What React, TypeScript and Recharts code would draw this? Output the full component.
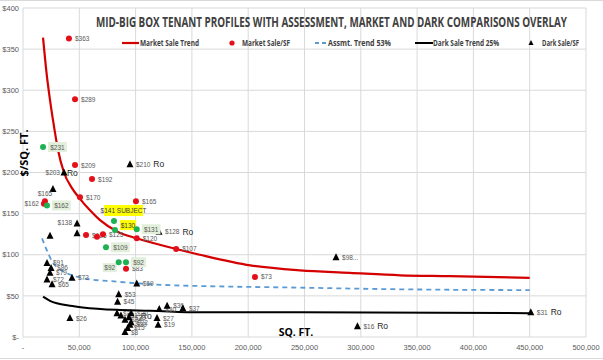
import React from 'react';
import { ScatterChart, Scatter, XAxis, YAxis, CartesianGrid } from 'recharts';

// ---------- Market sales (red dots) ----------
const marketSqft = [40800, 46200, 46200, 61300, 50600, 100300, 19500, 18600, 56000, 65700, 71000, 101000, 136000, 91500, 206000];
const marketPsf = [363, 289, 209, 192, 170, 165, 165, 162, 124, 122, 125, 120, 107, 83, 73];
const marketLabels = ['$363', '$289', '$209', '$192', '$170', '$165', '$165', '$162', '$126', '', '$125', '$120', '$107', '$83', '$73'];

// ---------- Assessments (green dots) ----------
const assessSqft = [17800, 21300, 80800, 81700, 101000, 73700, 85000, 91500];
const assessPsf = [231, 160, 141, 130, 131, 109, 91, 91];
const assessLabels = ['$231', '$162', '$141 SUBJECT', '$130', '$131', '$109', '$92', '$92'];

// ---------- Dark sales (black triangles) ----------
const darkSqft = [95000, 36400, 26600, 48000, 48000, 24000, 21300, 24900, 24000, 21300, 25800, 43500, 101000, 85000, 84000, 83500, 41700, 87000, 90600, 94000, 96000, 96000, 95000, 93000, 90600, 119000, 120000, 121000, 128000, 142000, 278000, 297000, 451000, 120800];
const darkPsf = [210, 200, 180, 138, 126, 123, 90, 84, 78, 70, 64, 72, 65, 52, 43, 29, 23, 26, 21, 24, 29, 18, 15, 11, 6, 23, 15, 34, 38, 35, 97, 13, 30, 128];
const darkLabels = ['$210', '$203', '', '$138', '', '', '$91', '$86', '$79', '$72', '$65', '$73', '$69', '$53', '$45', '$36', '$26', '$31', '$24', '$28', '$30', '$22', '$20', '$15', '$8', '$27', '$19', '$30', '$36', '$37', '$98...', '$16', '$31', '$128'];
const darkRo = ['$210', '$203', '$16', '$31', '$128'];

// ---------- Trend lines ----------
const marketTrendSqft = [17800, 21000, 24000, 26600, 31000, 36400, 43500, 50600, 59500, 68400, 84000, 101000, 136000, 157000, 202000, 246000, 290000, 335000, 379000, 450000];
const marketTrendPsf = [364, 320, 288, 264, 228, 200, 181, 168, 154, 142, 128, 120, 107, 100, 87, 81, 78, 75, 74, 72];
const assessTrendSqft = [16900, 21000, 25800, 32900, 41700, 55000, 77000, 130000, 157000, 246000, 335000, 450000];
const assessTrendPsf = [120, 106, 92, 82, 76, 71, 68, 63, 62, 60, 58, 57];
const darkTrendSqft = [17800, 24000, 30000, 41700, 53000, 83000, 113000, 157000, 246000, 450000];
const darkTrendPsf = [49, 44, 41, 38, 36, 33, 32, 30, 30, 29];

const xTicks = [0, 50000, 100000, 150000, 200000, 250000, 300000, 350000, 400000, 450000, 500000];
const yTicks = [0, 50, 100, 150, 200, 250, 300, 350, 400];

const TITLE = 'MID-BIG BOX TENANT PROFILES WITH ASSESSMENT, MARKET AND DARK COMPARISONS OVERLAY';

// label placements (non-default)
const placement: Record<string, string> = {
  m6: 'above',
  m7: 'left',
  d1: 'split',
  d3: 'left',
  g2: 'subject',
  g3: 'yellowRight',
  g6: 'belowLeft',
};

const zip = (prefix: string, xs: number[], ys: number[], labels?: string[]) =>
  xs.map((x, i) => ({ x, y: ys[i], label: labels ? labels[i] : '', id: prefix + i }));

const marketData = zip('m', marketSqft, marketPsf, marketLabels);
const assessData = zip('g', assessSqft, assessPsf, assessLabels);
const darkData = zip('d', darkSqft, darkPsf, darkLabels);
const marketTrend = zip('mt', marketTrendSqft, marketTrendPsf);
const assessTrend = zip('at', assessTrendSqft, assessTrendPsf);
const darkTrend = zip('dt', darkTrendSqft, darkTrendPsf);

const LABEL_FONT = "'Liberation Sans', Arial, sans-serif";
const LABEL_COLOR = '#595959';
const RED = '#E3101B';
const GREEN = '#1DB152';

const SmallText = ({ x, y, children, anchor = 'start' }: any) => (
  <text x={x} y={y} fontSize={6.5} fill={LABEL_COLOR} fontFamily={LABEL_FONT} textAnchor={anchor}>
    {children}
  </text>
);

const MarketShape = (props: any) => {
  const { cx, cy, payload } = props;
  if (cx == null || cy == null) return <g />;
  const p = placement[payload.id];
  let lbl = null;
  if (payload.label) {
    if (p === 'above') lbl = <SmallText x={cx} y={cy - 5} anchor="middle">{payload.label}</SmallText>;
    else if (p === 'left') lbl = <SmallText x={cx - 5} y={cy + 2.5} anchor="end">{payload.label}</SmallText>;
    else lbl = <SmallText x={cx + 6} y={cy + 2.5}>{payload.label}</SmallText>;
  }
  return (
    <g>
      <circle cx={cx} cy={cy} r={3} fill={RED} />
      {lbl}
    </g>
  );
};

const AssessShape = (props: any) => {
  const { cx, cy, payload } = props;
  if (cx == null || cy == null) return <g />;
  const p = placement[payload.id];
  const label: string = payload.label;
  let box = null;
  if (p === 'subject') {
    box = (
      <g>
        <rect x={cx - 10} y={cy - 16} width={39} height={11} fill="#FFFF00" />
        <text x={cx + 9.5} y={cy - 8} fontSize={6.5} fill="#404040" fontFamily={LABEL_FONT} textAnchor="middle">{label}</text>
      </g>
    );
  } else if (p === 'yellowRight') {
    box = (
      <g>
        <rect x={cx + 5} y={cy - 10} width={16} height={10} fill="#FFFF00" />
        <text x={cx + 13} y={cy - 2.5} fontSize={6.5} fill="#404040" fontFamily={LABEL_FONT} textAnchor="middle">{label}</text>
      </g>
    );
  } else if (p === 'belowLeft') {
    box = (
      <g>
        <rect x={cx - 16} y={cy + 1} width={14} height={9} fill="#E2EFDA" />
        <text x={cx - 9} y={cy + 8} fontSize={6.5} fill={LABEL_COLOR} fontFamily={LABEL_FONT} textAnchor="middle">{label}</text>
      </g>
    );
  } else {
    const w = label.length * 3.7 + 4;
    box = (
      <g>
        <rect x={cx + 5} y={cy - 5} width={w} height={10} fill="#E2EFDA" />
        <text x={cx + 5 + w / 2} y={cy + 2.5} fontSize={6.5} fill={LABEL_COLOR} fontFamily={LABEL_FONT} textAnchor="middle">{label}</text>
      </g>
    );
  }
  return (
    <g>
      {box}
      <circle cx={cx} cy={cy} r={3} fill={GREEN} />
    </g>
  );
};

const Triangle = ({ cx, cy }: any) => (
  <path d={`M${cx},${cy - 4} L${cx + 3.5},${cy + 3} L${cx - 3.5},${cy + 3} Z`} fill="#000" />
);

const DarkShape = (props: any) => {
  const { cx, cy, payload } = props;
  if (cx == null || cy == null) return <g />;
  const p = placement[payload.id];
  const label: string = payload.label;
  const ro = darkRo.includes(label);
  let lbl = null;
  if (label) {
    if (p === 'split') {
      lbl = (
        <g>
          <SmallText x={cx - 4} y={cy + 2.5} anchor="end">{label}</SmallText>
          <text x={cx + 3} y={cy + 3} fontSize={8.5} fill="#262626" fontFamily={LABEL_FONT}>Ro</text>
        </g>
      );
    } else if (p === 'left') {
      lbl = <SmallText x={cx - 5} y={cy + 1.5} anchor="end">{label}</SmallText>;
    } else {
      lbl = (
        <g>
          <SmallText x={cx + 6} y={cy + 2.5}>{label}</SmallText>
          {ro && (
            <text x={cx + 6 + label.length * 3.6 + 3} y={cy + 3} fontSize={8.5} fill="#262626" fontFamily={LABEL_FONT}>Ro</text>
          )}
        </g>
      );
    }
  }
  return (
    <g>
      <Triangle cx={cx} cy={cy} />
      {lbl}
    </g>
  );
};

const NoShape = () => <g />;

const fmtX = (v: number) => (v === 0 ? '-' : v.toLocaleString('en-US'));
const fmtY = (v: number) => (v === 0 ? '$-' : '$' + v);

const Overlay = () => (
  <svg width={603} height={360} style={{ position: 'absolute', left: 0, top: 0, pointerEvents: 'none' }}>
    <line x1={0} y1={0.5} x2={603} y2={0.5} stroke="#d9d9d9" />
    <line x1={0} y1={358.5} x2={603} y2={358.5} stroke="#d9d9d9" />
    <text x={96} y={27} fontSize={13.5} fontWeight="bold" fill="#404040" fontFamily="'Open Sans', sans-serif"
      textLength={471} lengthAdjust="spacingAndGlyphs">{TITLE}</text>
    {/* legend */}
    <g fontFamily="'Open Sans', sans-serif" fontWeight="bold" fontSize={8} fill="#404040">
      <line x1={122} y1={43} x2={139} y2={43} stroke="#D40000" strokeWidth={2.2} />
      <text x={140} y={46} textLength={59} lengthAdjust="spacingAndGlyphs">Market Sale Trend</text>
      <circle cx={232} cy={43} r={2.6} fill={RED} />
      <text x={242} y={46} textLength={48} lengthAdjust="spacingAndGlyphs">Market Sale/SF</text>
      <line x1={315} y1={43} x2={326} y2={43} stroke="#5B9BD5" strokeWidth={1.8} strokeDasharray="4,3" />
      <text x={328} y={46} textLength={63} lengthAdjust="spacingAndGlyphs">Assmt. Trend 53%</text>
      <line x1={415} y1={43} x2={433} y2={43} stroke="#000" strokeWidth={2} />
      <text x={433} y={46} textLength={66} lengthAdjust="spacingAndGlyphs">Dark Sale Trend 25%</text>
      <path d="M531,40 L533.5,45 L528.5,45 Z" fill="#000" />
      <text x={542} y={46} textLength={37} lengthAdjust="spacingAndGlyphs">Dark Sale/SF</text>
    </g>
    <text x={0} y={0} transform="translate(28,153) rotate(-90)" fontSize={11} fontWeight="bold" fill="#000"
      fontFamily="'Open Sans', sans-serif" textAnchor="middle">$/SQ. FT.</text>
    <text x={296} y={336} fontSize={10.5} fontWeight="bold" fill="#000" fontFamily="'Open Sans', sans-serif"
      textAnchor="middle">SQ. FT.</text>
  </svg>
);

export default function App() {
  return (
    <div style={{ position: 'absolute', left: 0, top: 0, width: 603, height: 360, background: '#fff' }}>
      <ScatterChart width={603} height={360} margin={{ top: 8, right: 17, bottom: 0, left: 0 }}>
        <CartesianGrid stroke="#d9d9d9" strokeWidth={1} />
        <XAxis
          type="number"
          dataKey="x"
          domain={[0, 500000]}
          ticks={xTicks}
          tickFormatter={fmtX}
          axisLine={false}
          tickLine={false}
          tickSize={0}
          tickMargin={8}
          height={23}
          interval={0}
          tick={{ fontSize: 7.5, fill: LABEL_COLOR, fontFamily: LABEL_FONT }}
        />
        <YAxis
          type="number"
          dataKey="y"
          domain={[0, 400]}
          ticks={yTicks}
          tickFormatter={fmtY}
          axisLine={false}
          tickLine={false}
          tickSize={0}
          tickMargin={4}
          width={23}
          interval={0}
          tick={{ fontSize: 7.5, fill: LABEL_COLOR, fontFamily: LABEL_FONT }}
        />
        <Scatter data={darkTrend} shape={NoShape} line={{ stroke: '#000', strokeWidth: 2 }} lineType="joint" lineJointType="monotoneX" isAnimationActive={false} />
        <Scatter data={assessTrend} shape={NoShape} line={{ stroke: '#5B9BD5', strokeWidth: 1.8, strokeDasharray: '5 4' }} lineType="joint" lineJointType="monotoneX" isAnimationActive={false} />
        <Scatter data={marketTrend} shape={NoShape} line={{ stroke: '#D40000', strokeWidth: 2.2 }} lineType="joint" lineJointType="monotoneX" isAnimationActive={false} />
        <Scatter data={darkData} shape={DarkShape} isAnimationActive={false} />
        <Scatter data={marketData} shape={MarketShape} isAnimationActive={false} />
        <Scatter data={assessData} shape={AssessShape} isAnimationActive={false} />
      </ScatterChart>
      <Overlay />
    </div>
  );
}
